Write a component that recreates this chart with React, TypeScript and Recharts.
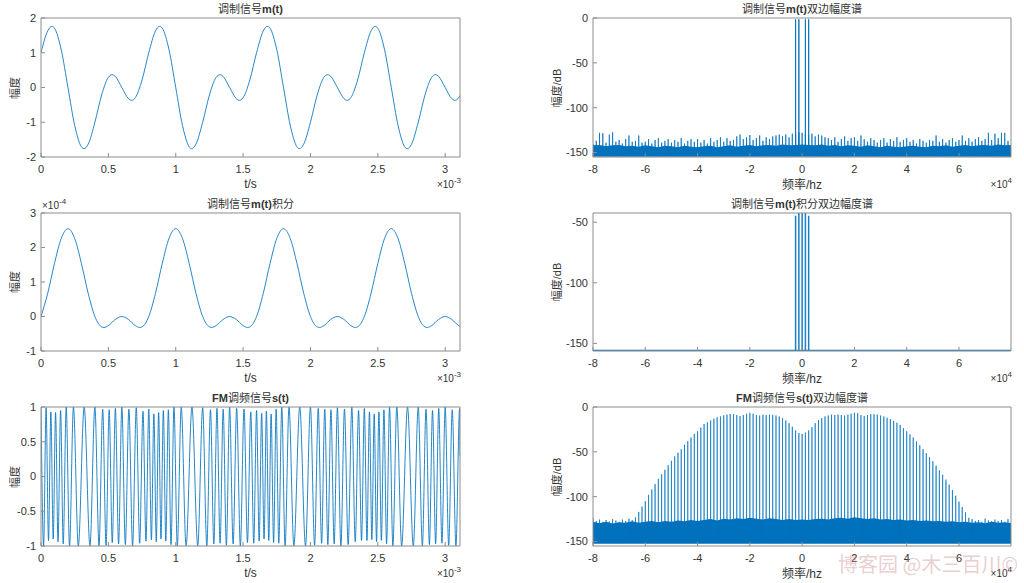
import React from 'react';
import { ComposedChart, Line, Area, XAxis, YAxis } from 'recharts';

const BLUE = '#0072BD';
const AXIS = '#8c8c8c';
const TXT = '#333333';
const LATIN = '"Liberation Sans", Arial, Helvetica, sans-serif';
const CJK = '"Noto Sans CJK SC", "Noto Sans", sans-serif';

// ---- time domain (t in ms) ----
const TIME_TICKS = [0, 0.5, 1, 1.5, 2, 2.5, 3];

const M_T = [
  0, 0.05, 0.081, 0.1, 0.15, 0.2, 0.25, 0.3, 0.319, 0.35, 0.4, 0.45, 0.5, 0.528, 0.55, 0.6, 0.65, 0.672, 0.7, 0.75,
  0.8, 0.85, 0.881, 0.9, 0.95, 1.0, 1.05, 1.1, 1.119, 1.15, 1.2, 1.25, 1.3, 1.328, 1.35, 1.4, 1.45, 1.472, 1.5, 1.55,
  1.6, 1.65, 1.681, 1.7, 1.75, 1.8, 1.85, 1.9, 1.919, 1.95, 2.0, 2.05, 2.1, 2.128, 2.15, 2.2, 2.25, 2.272, 2.3, 2.35,
  2.4, 2.45, 2.481, 2.5, 2.55, 2.6, 2.65, 2.7, 2.719, 2.75, 2.8, 2.85, 2.9, 2.928, 2.95, 3.0, 3.05, 3.072, 3.1, 3.11,
];
const M_V = [
  1.0, 1.631, 1.76, 1.707, 1.09, 0, -1.09, -1.707, -1.76, -1.631, -1.0, -0.217, 0.293, 0.369, 0.324, 0, -0.324, -0.369, -0.293, 0.217,
  1.0, 1.631, 1.76, 1.707, 1.09, 0, -1.09, -1.707, -1.76, -1.631, -1.0, -0.217, 0.293, 0.369, 0.324, 0, -0.324, -0.369, -0.293, 0.217,
  1.0, 1.631, 1.76, 1.707, 1.09, 0, -1.09, -1.707, -1.76, -1.631, -1.0, -0.217, 0.293, 0.369, 0.324, 0, -0.324, -0.369, -0.293, 0.217,
  1.0, 1.631, 1.76, 1.707, 1.09, 0, -1.09, -1.707, -1.76, -1.631, -1.0, -0.217, 0.293, 0.369, 0.324, 0, -0.324, -0.369, -0.293, -0.228,
];

// integral, values in units of 1e-4
const INT_T = [
  0, 0.05, 0.1, 0.15, 0.2, 0.25, 0.3, 0.35, 0.4, 0.45, 0.467, 0.5, 0.55, 0.6, 0.65, 0.7, 0.733, 0.75,
  0.8, 0.85, 0.9, 0.95, 1.0, 1.05, 1.1, 1.15, 1.2, 1.25, 1.267, 1.3, 1.35, 1.4, 1.45, 1.5, 1.533, 1.55,
  1.6, 1.65, 1.7, 1.75, 1.8, 1.85, 1.9, 1.95, 2.0, 2.05, 2.067, 2.1, 2.15, 2.2, 2.25, 2.3, 2.333, 2.35,
  2.4, 2.45, 2.5, 2.55, 2.6, 2.65, 2.7, 2.75, 2.8, 2.85, 2.867, 2.9, 2.95, 3.0, 3.05, 3.1, 3.11,
];
const INT_V = [
  0, 0.674, 1.537, 2.263, 2.546, 2.263, 1.537, 0.674, 0, -0.301, -0.318, -0.264, -0.089, 0, -0.089, -0.264, -0.318, -0.301,
  0, 0.674, 1.537, 2.263, 2.546, 2.263, 1.537, 0.674, 0, -0.301, -0.318, -0.264, -0.089, 0, -0.089, -0.264, -0.318, -0.301,
  0, 0.674, 1.537, 2.263, 2.546, 2.263, 1.537, 0.674, 0, -0.301, -0.318, -0.264, -0.089, 0, -0.089, -0.264, -0.318, -0.301,
  0, 0.674, 1.537, 2.263, 2.546, 2.263, 1.537, 0.674, 0, -0.301, -0.318, -0.264, -0.089, 0, -0.089, -0.264, -0.289,
];

// FM signal: times of its peaks and troughs
const FM_T = [
  0, 0.0194, 0.0378, 0.0557, 0.0731, 0.0906, 0.1081, 0.1264, 0.1454, 0.165, 0.1871, 0.2117, 0.2409, 0.2769, 0.3205, 0.3635,
  0.4, 0.4308, 0.4579, 0.4829, 0.5061, 0.5291, 0.5521, 0.5759, 0.6, 0.626, 0.6524, 0.6798, 0.7071, 0.7324, 0.7571, 0.7792,
  0.8, 0.8194, 0.8378, 0.8557, 0.8731, 0.8906, 0.9081, 0.9264, 0.9454, 0.965, 0.9871, 1.0117, 1.0409, 1.0769, 1.1205, 1.1635,
  1.2, 1.2308, 1.2579, 1.2829, 1.3061, 1.3291, 1.3521, 1.3759, 1.4, 1.426, 1.4524, 1.4798, 1.5071, 1.5324, 1.5571, 1.5792,
  1.6, 1.6194, 1.6378, 1.6557, 1.6731, 1.6906, 1.7081, 1.7264, 1.7454, 1.765, 1.7871, 1.8117, 1.8409, 1.8769, 1.9205, 1.9635,
  2.0, 2.0308, 2.0579, 2.0829, 2.1061, 2.1291, 2.1521, 2.1759, 2.2, 2.226, 2.2524, 2.2798, 2.3071, 2.3324, 2.3571, 2.3792,
  2.4, 2.4194, 2.4378, 2.4557, 2.4731, 2.4906, 2.5081, 2.5264, 2.5454, 2.565, 2.5871, 2.6117, 2.6409, 2.6769, 2.7205, 2.7635,
  2.8, 2.8308, 2.8579, 2.8829, 2.9061, 2.9291, 2.9521, 2.9759, 3.0, 3.026, 3.0524, 3.0798, 3.1071, 3.11,
];
const FM_V = [
  1, -1, 0.99, -0.92, 0.93, -0.9, 0.92, -0.94, 0.95, -0.97, 1, -1, 1, -1, 1, -1,
  1, -1, 0.97, -0.99, 0.96, -0.95, 0.98, -0.97, 1, -0.98, 0.97, -1, 0.99, -0.96, 0.94, -0.93,
  0.97, -0.91, 0.9, -0.94, 0.92, -0.9, 0.95, -0.93, 0.96, -0.98, 1, -1, 1, -1, 1, -1,
  0.99, -1, 0.96, -0.97, 0.98, -0.96, 0.97, -0.99, 1, -0.97, 0.98, -1, 0.97, -0.95, 0.93, -0.96,
  0.95, -0.93, 0.91, -0.9, 0.94, -0.92, 0.9, -0.95, 0.97, -0.96, 1, -1, 1, -1, 1, -1,
  1, -0.99, 0.98, -0.96, 0.97, -0.98, 0.96, -0.97, 0.99, -1, 0.97, -0.98, 1, -0.94, 0.95, -0.92,
  0.98, -0.92, 0.93, -0.91, 0.9, -0.94, 0.93, -0.92, 0.96, -0.97, 1, -1, 1, -1, 1, -1,
  1, -1, 0.97, -0.98, 0.95, -0.97, 0.98, -0.96, 1, -0.99, 0.96, -1, 0.98, 0.3,
];

// ---- spectra (frequency in units of 1e4 Hz) ----
const FREQ_TICKS = [-8, -6, -4, -2, 0, 2, 4, 6];
const LINE_STEP = 0.125; // 1250 Hz
const NOISE_STEP = 0.25;

const M_SPEC_FREQ = [-0.25, -0.125, 0.125, 0.25];
const M_SPEC_DB = [-1.5, -1.5, -1.5, -1.5];
const M_LEAK_DB = [
  -141, -137, -128, -128.5, -139, -130, -127.5, -138,
  -136, -140, -135, -131, -138, -137, -131, -139,
  -138, -135, -140, -136, -134, -139, -137, -135,
  -139, -136, -138, -134, -140, -137, -135, -138,
  -135, -139, -136, -140, -134, -138, -136, -133,
  -138, -134, -137, -136, -132, -130, -135, -133,
  -130.5, -136, -134, -131, -137, -133, -135, -132,
  -131, -130, -132, -130, -133, -129, -128, -127.5,
  -128, -130, -131, -129, -132, -130, -131, -133,
  -134, -136, -133, -138, -135, -132, -137, -134,
  -133, -137, -131, -135, -138, -134, -136, -139,
  -136, -134, -139, -135, -137, -133, -138, -136,
  -134, -138, -136, -140, -135, -137, -139, -136,
  -137, -131, -138, -135, -139, -136, -134, -138,
  -136, -131, -137, -134, -138, -135, -133, -137,
  -135, -128, -136, -129, -134, -128, -128, -137,
];
const M_FLOOR_TOP = [
  -142, -141.5, -143, -142, -141.5, -143, -142.5, -143.5, -142,
  -143, -144, -142.5, -143, -144, -142.5, -143.5, -144,
  -143, -142.5, -144, -143, -142, -143.5, -142.5, -141.5,
  -143, -142, -141.5, -142.5, -141, -142, -141.5, -141,
  -141.5, -142, -141, -142.5, -141.5, -143, -142, -142.5,
  -143.5, -142, -143, -144, -142.5, -143.5, -144, -143,
  -142.5, -143.5, -144, -142.5, -143, -142, -143.5, -142.5,
  -141.5, -143, -142, -141.5, -142.5, -141, -142, -141.5,
];
const M_FLOOR_BOTTOM = -154.6;

const INT_SPEC_FREQ = [-0.25, -0.125, 0, 0.125, 0.25];
const INT_SPEC_DB = [-44.6, -38.6, -38.6, -38.6, -44.6];
const INT_FLOOR = -155.8;

const FM_LINE_DB = [
  -124, -127, -125.5, -128, -126, -127.5, -125, -126.5, -128, -125.5, -127, -124.5, -126,
  -123, -117, -111, -105, -98, -92, -86, -80, -75, -70, -65, -60, -55, -51, -47, -42, -38, -34, -30, -27,
  -23, -19, -17, -15, -13, -11.5, -10.5, -9.3, -8.5, -7.8, -8, -9, -10, -9, -7.5, -6.5, -7.5, -9,
  -9.5, -8.5, -9, -8.5, -9, -9.5, -10.5, -12.5, -15, -18, -22, -26, -29,
  -30,
  -28.5, -26, -22.5, -18, -14.5, -12.5, -10.5, -9.5, -8.5, -9, -8.5, -9, -9.5, -8.5, -7.5, -6.5, -7,
  -9, -10, -9, -8, -8, -8.5, -9.5, -10.5, -12, -13.5, -15.5, -17.5, -20, -23.5, -27, -30.5, -34,
  -38.5, -42.5, -47, -51.5, -56, -60.5, -65.5, -70.5, -75.5, -81, -86.5, -92.5, -99, -105.5, -111.5, -117.5, -123.5,
  -125, -127, -126, -128, -124.5, -126.5, -127.5, -125.5, -127, -126, -128, -125,
];
const FM_FLOOR_TOP = [
  -128, -129.5, -128, -130, -128.5, -129, -127.5, -129, -128,
  -127, -128.5, -127, -128, -126.5, -127.5, -126, -127,
  -126, -125, -126.5, -124.5, -125.5, -124, -125, -123.5,
  -124.5, -125.5, -124, -125, -126, -125, -126, -125.5,
  -126, -125, -124.5, -125.5, -124, -123.5, -124.5, -123,
  -124, -125, -124, -125.5, -125, -126, -125.5, -126.5,
  -126, -127, -126.5, -127.5, -127, -128, -127.5, -128.5,
  -128, -129, -128.5, -129.5, -128, -129, -128.5, -129.5,
];
const FM_FLOOR_BOTTOM = -152.5;

// ---- helpers ----
const pairs = (xs: number[], ys: number[]) => xs.map((x, i) => ({ x, y: ys[i] }));
const lineFreqs = (n: number) => Array.from({ length: n }, (_, i) => -8 + i * LINE_STEP);
const stems = (freqs: number[], dbs: number[], base: number) => {
  const out: { x: number; y: number }[] = [];
  freqs.forEach((f, i) => {
    out.push({ x: f, y: base }, { x: f, y: dbs[i] }, { x: f, y: base });
  });
  return out;
};
const band = (tops: number[], bottom: number) =>
  tops.map((hi, i) => ({ x: -8 + i * NOISE_STEP, band: [bottom, hi] }));

const ML = 40, MR = 12, MT = 12, MB = 30;

type Box = { x: number; y: number; w: number; h: number };

function Panel(props: {
  box: Box;
  xDomain: [number, number];
  yDomain: [number, number];
  xTicks: number[];
  yTicks: number[];
  data?: any[];
  children: React.ReactNode;
}) {
  const { box, xDomain, yDomain, xTicks, yTicks, data, children } = props;
  const tickStyle = { fill: TXT, fontSize: 11, fontFamily: LATIN };
  return (
    <div style={{ position: 'absolute', left: box.x - ML, top: box.y - MT }}>
      <ComposedChart
        width={box.w + ML + MR}
        height={box.h + MT + MB}
        data={data}
        margin={{ top: MT - 1, right: MR - 1, bottom: 0, left: 0 }}
      >
        <XAxis type="number" dataKey="x" domain={xDomain} ticks={xTicks} interval={0} allowDataOverflow
          height={MB} stroke={AXIS} tickSize={-4} tickMargin={12} tick={tickStyle} />
        <XAxis xAxisId="top" orientation="top" type="number" dataKey="x" domain={xDomain} ticks={xTicks}
          interval={0} allowDataOverflow height={1} stroke={AXIS} tickSize={-4} tick={false} />
        <YAxis type="number" domain={yDomain} ticks={yTicks} interval={0} allowDataOverflow
          width={ML} stroke={AXIS} tickSize={-4} tickMargin={9} tick={tickStyle} />
        <YAxis yAxisId="right" orientation="right" type="number" domain={yDomain} ticks={yTicks}
          interval={0} allowDataOverflow width={1} stroke={AXIS} tickSize={-4} tick={false} />
        {children}
      </ComposedChart>
    </div>
  );
}

const Txt = ({ x, y, children, size = 11, rotate = false, color = TXT }: any) => (
  <div
    style={{
      position: 'absolute', left: x, top: y, whiteSpace: 'nowrap', fontSize: size, color,
      fontFamily: LATIN, lineHeight: 1,
      transform: `translate(-50%, -50%)${rotate ? ' rotate(-90deg)' : ''}`,
    }}
  >
    {children}
  </div>
);
const C = ({ children }: any) => <span style={{ fontFamily: CJK }}>{children}</span>;
const B = ({ children }: any) => <span style={{ fontWeight: 'bold' }}>{children}</span>;

const Exp = ({ right, left, y, pow }: any) => (
  <div style={{ position: 'absolute', top: y - 6, right: right !== undefined ? 1024 - right : undefined, left,
    fontFamily: LATIN, fontSize: 10, color: TXT, whiteSpace: 'nowrap', lineHeight: 1 }}>
    ×10<span style={{ fontSize: 8, position: 'relative', top: -5 }}>{pow}</span>
  </div>
);

const L1: Box = { x: 41, y: 18, w: 419, h: 139 };
const R1: Box = { x: 593, y: 18, w: 418, h: 139 };
const L2: Box = { x: 41, y: 213, w: 419, h: 138 };
const R2: Box = { x: 593, y: 213, w: 418, h: 138 };
const L3: Box = { x: 41, y: 407, w: 419, h: 139 };
const R3: Box = { x: 593, y: 407, w: 418, h: 139 };

const T_DOMAIN: [number, number] = [0, 3.11];
const F_DOMAIN: [number, number] = [-8, 7.99];

export default function App() {
  const lcx = L1.x + L1.w / 2;
  const rcx = R1.x + R1.w / 2;
  const stemLine = (data: any[], opacity = 0.8, width = 1) => (
    <Line data={data} type="linear" dataKey="y" stroke={BLUE} strokeOpacity={opacity} strokeWidth={width}
      dot={false} activeDot={false} isAnimationActive={false} />
  );
  return (
    <div style={{ position: 'absolute', left: 0, top: 0, width: 1024, height: 583, background: '#fff', overflow: 'hidden' }}>
      {/* m(t) */}
      <Panel box={L1} xDomain={T_DOMAIN} yDomain={[-2, 2]} xTicks={TIME_TICKS} yTicks={[-2, -1, 0, 1, 2]} data={pairs(M_T, M_V)}>
        <Line type="monotone" dataKey="y" stroke={BLUE} strokeOpacity={0.85} strokeWidth={1} dot={false} activeDot={false} isAnimationActive={false} />
      </Panel>
      {/* integral */}
      <Panel box={L2} xDomain={T_DOMAIN} yDomain={[-1, 3]} xTicks={TIME_TICKS} yTicks={[-1, 0, 1, 2, 3]} data={pairs(INT_T, INT_V)}>
        <Line type="monotone" dataKey="y" stroke={BLUE} strokeOpacity={0.85} strokeWidth={1} dot={false} activeDot={false} isAnimationActive={false} />
      </Panel>
      {/* FM signal */}
      <Panel box={L3} xDomain={T_DOMAIN} yDomain={[-1, 1]} xTicks={TIME_TICKS} yTicks={[-1, -0.5, 0, 0.5, 1]} data={pairs(FM_T, FM_V)}>
        <Line type="monotone" dataKey="y" stroke={BLUE} strokeOpacity={0.85} strokeWidth={1} dot={false} activeDot={false} isAnimationActive={false} />
      </Panel>

      {/* spectrum of m(t) */}
      <Panel box={R1} xDomain={F_DOMAIN} yDomain={[-155, 0]} xTicks={FREQ_TICKS} yTicks={[-150, -100, -50, 0]} data={band(M_FLOOR_TOP, M_FLOOR_BOTTOM)}>
        <Area type="linear" dataKey="band" stroke="none" fill={BLUE} fillOpacity={1} isAnimationActive={false} />
        {stemLine(stems(lineFreqs(M_LEAK_DB.length), M_LEAK_DB, -150), 0.75)}
        {stemLine(stems(M_SPEC_FREQ, M_SPEC_DB, -150), 0.9)}
      </Panel>
      {/* spectrum of integral */}
      <Panel box={R2} xDomain={F_DOMAIN} yDomain={[-156.3, -42.4]} xTicks={FREQ_TICKS} yTicks={[-150, -100, -50]}>
        {stemLine([{ x: -8, y: INT_FLOOR }, ...stems(INT_SPEC_FREQ, INT_SPEC_DB, INT_FLOOR), { x: 7.99, y: INT_FLOOR }], 0.9, 1.5)}
      </Panel>
      {/* spectrum of FM */}
      <Panel box={R3} xDomain={F_DOMAIN} yDomain={[-155, 0]} xTicks={FREQ_TICKS} yTicks={[-150, -100, -50, 0]} data={band(FM_FLOOR_TOP, FM_FLOOR_BOTTOM)}>
        <Area type="linear" dataKey="band" stroke="none" fill={BLUE} fillOpacity={1} isAnimationActive={false} />
        {stemLine(stems(lineFreqs(FM_LINE_DB.length), FM_LINE_DB, -150), 0.65)}
      </Panel>

      {/* titles */}
      <Txt x={lcx} y={9}><C>调制信号</C><B>m(t)</B></Txt>
      <Txt x={rcx} y={9}><C>调制信号</C><B>m(t)</B><C>双边幅度谱</C></Txt>
      <Txt x={lcx} y={204}><C>调制信号</C><B>m(t)</B><C>积分</C></Txt>
      <Txt x={rcx} y={204}><C>调制信号</C><B>m(t)</B><C>积分双边幅度谱</C></Txt>
      <Txt x={lcx} y={398}><B>FM</B><C>调频信号</C><B>s(t)</B></Txt>
      <Txt x={rcx} y={398}><B>FM</B><C>调频信号</C><B>s(t)</B><C>双边幅度谱</C></Txt>

      {/* axis labels */}
      {[L1, L2, L3].map((b, i) => (
        <React.Fragment key={'l' + i}>
          <Txt x={lcx} y={b.y + b.h + 27} size={12}>t/s</Txt>
          <Txt x={15} y={b.y + b.h / 2} rotate><C>幅度</C></Txt>
          <Exp right={461} y={b.y + b.h + 29} pow="-3" />
        </React.Fragment>
      ))}
      {[R1, R2, R3].map((b, i) => (
        <React.Fragment key={'r' + i}>
          <Txt x={rcx} y={b.y + b.h + 27} size={12}><C>频率</C>/hz</Txt>
          <Txt x={557} y={b.y + b.h / 2} rotate><C>幅度</C>/dB</Txt>
          <Exp right={1012} y={b.y + b.h + 29} pow="4" />
        </React.Fragment>
      ))}
      <Exp left={42} y={207} pow="-4" />

      {/* watermark */}
      <Txt x={928} y={564} size={20} color="rgba(200,130,130,0.4)"><C>博客园 @木三百川©</C></Txt>
    </div>
  );
}
